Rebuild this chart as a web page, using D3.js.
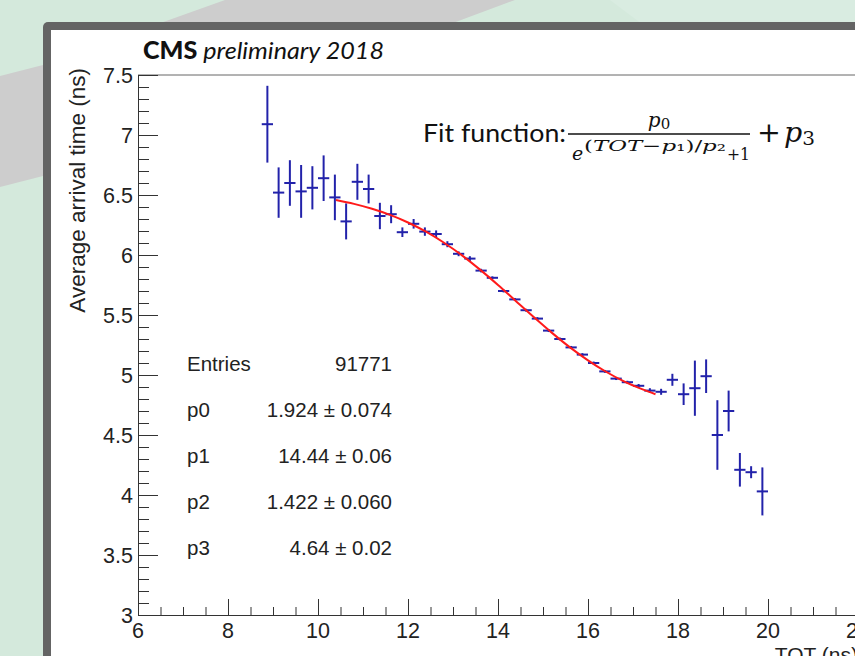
<!DOCTYPE html>
<html>
<head>
<meta charset="utf-8">
<script src="https://cdn.jsdelivr.net/npm/d3@7"></script>
<style>
  html, body { margin: 0; padding: 0; background: #d4e9dc; }
  svg { display: block; }
</style>
</head>
<body>
<svg id="chart" width="855" height="656"></svg>
<script>
// ---------- data ----------
const binCenters = [8.875, 9.125, 9.375, 9.625, 9.875, 10.125, 10.375, 10.625, 10.875, 11.125,
  11.375, 11.625, 11.875, 12.125, 12.375, 12.625, 12.875, 13.125, 13.375, 13.625,
  13.875, 14.125, 14.375, 14.625, 14.875, 15.125, 15.375, 15.625, 15.875, 16.125,
  16.375, 16.625, 16.875, 17.125, 17.375, 17.625, 17.875, 18.125, 18.375, 18.625,
  18.875, 19.125, 19.375, 19.625, 19.875];
const arrivalMeans = [7.09, 6.52, 6.60, 6.53, 6.56, 6.64, 6.48, 6.28, 6.61, 6.55,
  6.325, 6.34, 6.19, 6.26, 6.195, 6.175, 6.09, 6.01, 5.97, 5.87,
  5.81, 5.70, 5.63, 5.54, 5.47, 5.37, 5.30, 5.23, 5.17, 5.10,
  5.03, 4.97, 4.94, 4.91, 4.87, 4.86, 4.96, 4.84, 4.89, 4.99,
  4.50, 4.70, 4.21, 4.19, 4.03];
const arrivalErrors = [0.32, 0.21, 0.19, 0.22, 0.18, 0.19, 0.19, 0.15, 0.15, 0.12,
  0.11, 0.075, 0.04, 0.04, 0.035, 0.03, 0.025, 0.02, 0.02, 0.015,
  0.012, 0.012, 0.012, 0.012, 0.012, 0.012, 0.012, 0.012, 0.012, 0.012,
  0.012, 0.012, 0.012, 0.015, 0.02, 0.025, 0.05, 0.09, 0.23, 0.14,
  0.29, 0.17, 0.14, 0.05, 0.20];
const binHalfWidth = 0.125;

// fit curve samples
const fitX = [10.4, 10.8, 11.2, 11.6, 12.0, 12.4, 12.8, 13.2, 13.6, 14.0,
  14.4, 14.8, 15.2, 15.6, 16.0, 16.4, 16.8, 17.2, 17.5];
const fitY = [6.458, 6.426, 6.385, 6.334, 6.271, 6.194, 6.102, 5.997, 5.878, 5.750,
  5.615, 5.481, 5.351, 5.230, 5.122, 5.027, 4.947, 4.882, 4.840];

const statLabels = ["Entries", "p0", "p1", "p2", "p3"];
const statValues = ["91771", "1.924 \u00b1 0.074", "14.44 \u00b1 0.06", "1.422 \u00b1 0.060", "4.64 \u00b1 0.02"];

const xTickLabels = [6, 8, 10, 12, 14, 16, 18, 20, 22];
const yTickLabels = [3, 3.5, 4, 4.5, 5, 5.5, 6, 6.5, 7, 7.5];

// ---------- drawing ----------
const svg = d3.select("#chart");

// slide background
svg.append("rect").attr("width", 855).attr("height", 656).attr("fill", "#d4e9dc");
svg.append("polygon").attr("points", "610,0 855,0 855,30 650,30").attr("fill", "#d9ece1");
svg.append("polygon").attr("points", "225,0 515,0 43,176 0,187 0,76 43,65").attr("fill", "#cdcdcd");

// dark frame with white canvas
svg.append("rect").attr("x", 43).attr("y", 22).attr("width", 900).attr("height", 700)
  .attr("rx", 5).attr("fill", "#646464");
svg.append("rect").attr("x", 51).attr("y", 30).attr("width", 900).attr("height", 700)
  .attr("fill", "#ffffff");

const x = d3.scaleLinear().domain([6, 22]).range([138, 858]);
const y = d3.scaleLinear().domain([3, 7.5]).range([615, 75]);

const axisColor = "#333";
const labelFont = "'Liberation Sans', Arial, Helvetica, sans-serif";

// frame top line
svg.append("line").attr("x1", x(6)).attr("x2", 855).attr("y1", y(7.5)).attr("y2", y(7.5))
  .attr("stroke", "#666").attr("stroke-width", 1);

// Y axis
const yAxis = d3.axisRight(y)
  .tickValues(d3.range(30, 76, 1).map(v => v / 10))
  .tickSize(0).tickFormat("");
const gy = svg.append("g").attr("transform", `translate(${x(6)},0)`).call(yAxis);
gy.select(".domain").attr("stroke", axisColor);
gy.selectAll(".tick line")
  .attr("x2", d => (Math.abs(d * 2 - Math.round(d * 2)) < 1e-6 ? 20 : 11))
  .attr("stroke", axisColor);
svg.append("g").selectAll("text").data(yTickLabels).join("text")
  .attr("x", 133).attr("y", d => y(d)).attr("dy", "0.36em")
  .attr("text-anchor", "end").attr("font-family", labelFont).attr("font-size", 21.5)
  .attr("fill", "#222").text(d => d);

// X axis
const xAxis = d3.axisTop(x)
  .tickValues(d3.range(12, 45, 1).map(v => v / 2))
  .tickSize(0).tickFormat("");
const gx = svg.append("g").attr("transform", `translate(0,${y(3)})`).call(xAxis);
gx.select(".domain").attr("stroke", axisColor);
gx.selectAll(".tick line")
  .attr("y2", d => (Math.abs(d / 2 - Math.round(d / 2)) < 1e-6 ? -16 : -8))
  .attr("stroke", axisColor);
svg.append("g").selectAll("text").data(xTickLabels).join("text")
  .attr("x", d => x(d)).attr("y", 638)
  .attr("text-anchor", "middle").attr("font-family", labelFont).attr("font-size", 21.5)
  .attr("fill", "#222").text(d => d);

// axis titles
svg.append("text").attr("x", 858).attr("y", 662).attr("text-anchor", "end")
  .attr("font-family", labelFont).attr("font-size", 21).attr("fill", "#222").text("TOT (ns)");
svg.append("text").attr("transform", "translate(85,68) rotate(-90)").attr("text-anchor", "end")
  .attr("font-family", labelFont).attr("font-size", 22.5).attr("fill", "#222")
  .text("Average arrival time (ns)");

// CMS title
const title = svg.append("text").attr("x", 143).attr("y", 59)
  .attr("font-family", "Lato, 'Liberation Sans Narrow', sans-serif").attr("font-size", 24)
  .attr("fill", "#111").attr("textLength", 241).attr("lengthAdjust", "spacingAndGlyphs");
title.append("tspan").attr("font-weight", "900").text("CMS ");
title.append("tspan").attr("font-style", "italic").text("preliminary 2018");

// data points with error bars
const pts = binCenters.map((c, i) => ({ c, m: arrivalMeans[i], e: arrivalErrors[i] }));
const gp = svg.append("g").attr("stroke", "#2222aa").attr("stroke-width", 2);
gp.selectAll("line.v").data(pts).join("line").attr("class", "v")
  .attr("x1", d => x(d.c)).attr("x2", d => x(d.c))
  .attr("y1", d => y(d.m + d.e)).attr("y2", d => y(d.m - d.e));
gp.selectAll("line.h").data(pts).join("line").attr("class", "h")
  .attr("x1", d => x(d.c - binHalfWidth)).attr("x2", d => x(d.c + binHalfWidth))
  .attr("y1", d => y(d.m)).attr("y2", d => y(d.m));

// fit curve
const fitPts = fitX.map((v, i) => [v, fitY[i]]);
svg.append("path").datum(fitPts)
  .attr("d", d3.line().x(d => x(d[0])).y(d => y(d[1])).curve(d3.curveCatmullRom))
  .attr("fill", "none").attr("stroke", "#ff1a1a").attr("stroke-width", 2);

// stats box text
const statRowY = [371, 417, 463, 509, 555];
svg.append("g").selectAll("text").data(statLabels).join("text")
  .attr("x", 187).attr("y", (d, i) => statRowY[i])
  .attr("font-family", labelFont).attr("font-size", 20.5).attr("fill", "#222").text(d => d);
svg.append("g").selectAll("text").data(statValues).join("text")
  .attr("x", 392).attr("y", (d, i) => statRowY[i]).attr("text-anchor", "end")
  .attr("font-family", labelFont).attr("font-size", 20.5).attr("fill", "#222").text(d => d);

// fit function annotation
const mathFont = "'DejaVu Serif', 'Liberation Serif', serif";
svg.append("text").attr("x", 423).attr("y", 142)
  .attr("font-family", "Lato, 'Open Sans', sans-serif").attr("font-size", 25).attr("fill", "#111")
  .attr("textLength", 143).attr("lengthAdjust", "spacingAndGlyphs")
  .text("Fit function:");
svg.append("line").attr("x1", 568).attr("x2", 750).attr("y1", 134).attr("y2", 134)
  .attr("stroke", "#111").attr("stroke-width", 1.5);
const num = svg.append("text").attr("x", 659).attr("y", 127).attr("text-anchor", "middle")
  .attr("font-family", mathFont).attr("font-size", 20).attr("fill", "#111");
num.append("tspan").attr("font-style", "italic").text("p");
num.append("tspan").attr("font-size", 15).attr("dy", 2).text("0");
svg.append("text").attr("x", 572).attr("y", 160)
  .attr("font-family", mathFont).attr("font-size", 19).attr("font-style", "italic")
  .attr("fill", "#111").text("e");
const sup = svg.append("text").attr("x", 584).attr("y", 151)
  .attr("font-family", mathFont).attr("font-size", 15.5).attr("fill", "#111")
  .attr("textLength", 142).attr("lengthAdjust", "spacingAndGlyphs");
sup.append("tspan").text("(");
sup.append("tspan").attr("font-style", "italic").text("TOT");
sup.append("tspan").text("\u2212");
sup.append("tspan").attr("font-style", "italic").text("p");
sup.append("tspan").text("\u2081)/");
sup.append("tspan").attr("font-style", "italic").text("p");
sup.append("tspan").text("\u2082");
svg.append("text").attr("x", 727).attr("y", 160)
  .attr("font-family", mathFont).attr("font-size", 17).attr("fill", "#111")
  .attr("textLength", 23).attr("lengthAdjust", "spacingAndGlyphs").text("+1");
const tail = svg.append("text").attr("x", 757).attr("y", 142)
  .attr("font-family", mathFont).attr("font-size", 27).attr("fill", "#111")
  .attr("textLength", 58).attr("lengthAdjust", "spacingAndGlyphs");
tail.append("tspan").text("+");
tail.append("tspan").attr("font-style", "italic").attr("dx", 3).text("p");
tail.append("tspan").attr("font-size", 19).attr("dy", 3).text("3");
</script>
</body>
</html>
